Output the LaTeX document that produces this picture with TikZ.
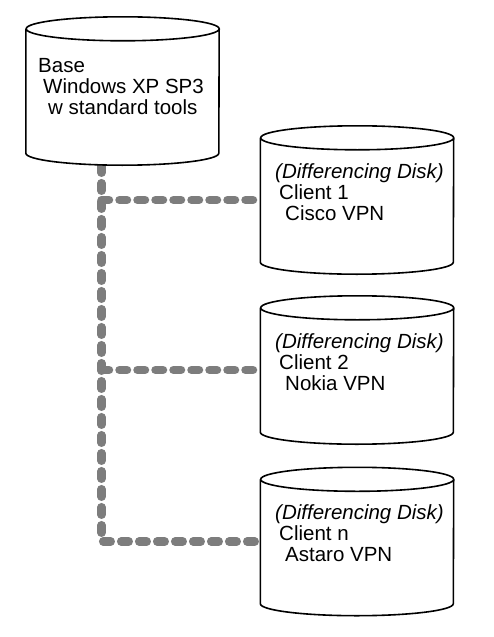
\documentclass[tikz,border=0pt]{standalone}
\usepackage{fontspec}
\setmainfont{Liberation Sans}
\usepackage{tikz}
\usetikzlibrary{positioning, calc}
\definecolor{linkgray}{RGB}{125,125,125}
\tikzset{
    disk/.style={minimum width=193pt, minimum height=148pt, inner sep=0pt},
    diskline/.style={draw, line width=1.6pt, fill=white},
    disktext/.style={anchor=north west, align=left, inner sep=0pt,
        font=\fontsize{20.5}{21}\selectfont},
    link/.style={draw=linkgray, line width=8.5pt, line cap=round, dash pattern=on 7.5pt off 10.5pt}
}

\begin{document}
\begin{tikzpicture}[x=1pt,y=-1pt]
    \useasboundingbox (0,0) rectangle (493,637);
    \node[disk] (base) at (122.5,91) {};
    \node[disk] (client1) at (357,200) {};
    \node[disk] (client2) at (357,370) {};
    \node[disk] (clientn) at (357,541.5) {};
    % trunk of the tree
    \coordinate (trunk) at ([xshift=-21pt]base.south);
    \path[link]
        (trunk) |- (clientn.west)
        (trunk |- client1.west) -- (client1.west)
        (trunk |- client2.west) -- (client2.west)
    ;
    % cylinder outlines
    \foreach \d in {base,client1,client2,clientn}
        \draw[diskline] ([yshift=-12pt]\d.north west) -- ([yshift=12pt]\d.south west)
            arc[start angle=180, end angle=360, x radius=96.5pt, y radius=12pt]
            -- ([yshift=-12pt]\d.north east)
            arc[start angle=0, end angle=360, x radius=96.5pt, y radius=12pt];
    \node[disktext] (basetext) at ([shift={(-84.5,-33)}]base.center)
        {Base\\\hspace*{5pt}Windows XP SP3\\\hspace*{10pt}w standard tools};
    \node[disktext] (client1text) at ([shift={(-82,-37)}]client1.center)
        {\textit{(Differencing Disk)}\\\hspace*{4pt}Client 1\\\hspace*{10pt}Cisco VPN};
    \node[disktext] (client2text) at ([shift={(-82,-37)}]client2.center)
        {\textit{(Differencing Disk)}\\\hspace*{4pt}Client 2\\\hspace*{10pt}Nokia VPN};
    \node[disktext] (clientntext) at ([shift={(-82,-37)}]clientn.center)
        {\textit{(Differencing Disk)}\\\hspace*{4pt}Client n\\\hspace*{10pt}Astaro VPN};
\end{tikzpicture}
\end{document}
